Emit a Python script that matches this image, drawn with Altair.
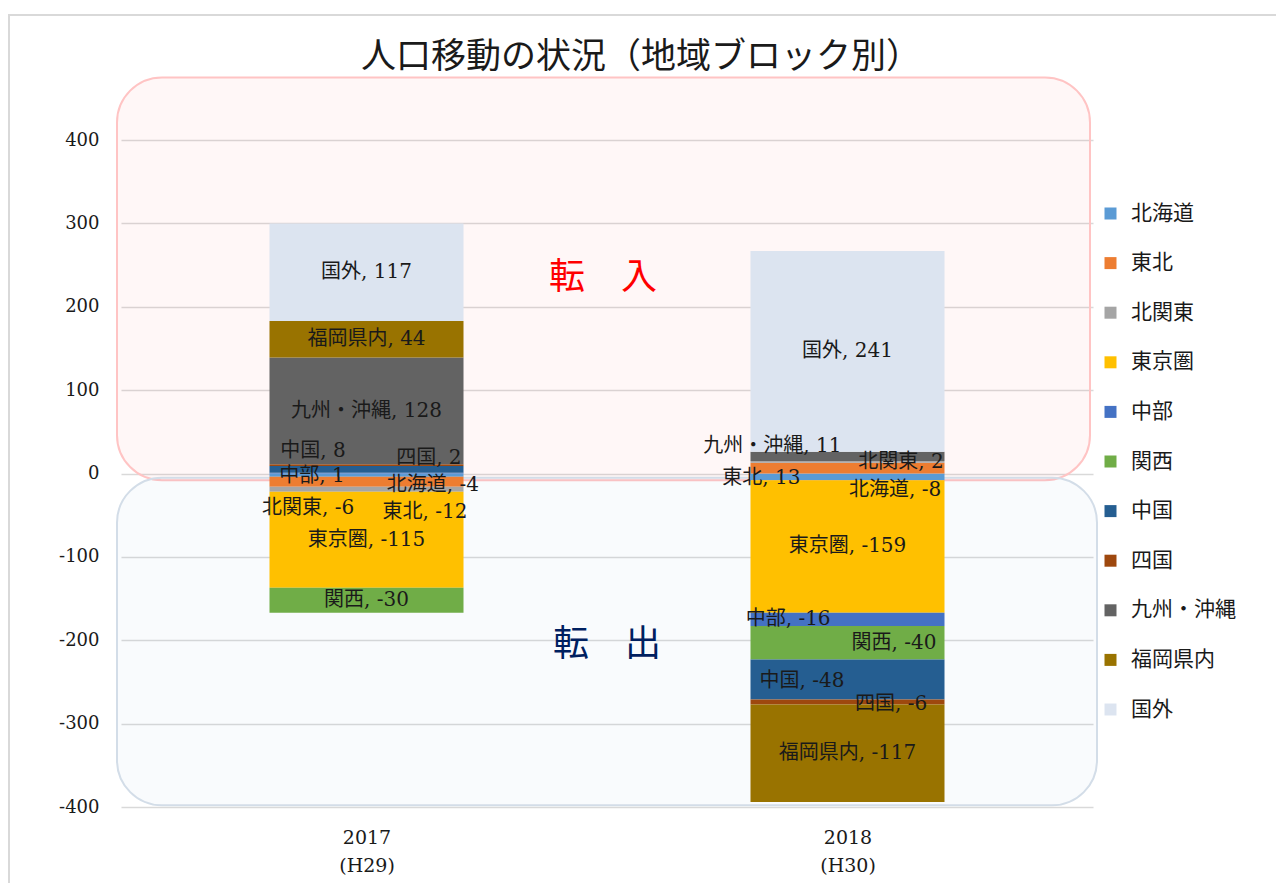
import altair as alt
import pandas as pd

# ---------------- data ----------------
REGIONS = ["北海道", "東北", "北関東", "東京圏", "中部", "関西", "中国", "四国",
           "九州・沖縄", "福岡県内", "国外"]
COLORS = ["#5B9BD5", "#ED7D31", "#A5A5A5", "#FFC000", "#4472C4", "#70AD47",
          "#255E91", "#9E480E", "#636363", "#997300", "#DCE4F0"]
YEARS = ["2017", "2018"]
ERAS = ["(H29)", "(H30)"]
V2017 = [-4, -12, -6, -115, 1, -30, 8, 2, 128, 44, 117]
V2018 = [-8, 13, 2, -159, -16, -40, -48, -6, 11, -117, 241]

TITLE = ["人口移動の状況（地域ブロック別）"]
IN_TEXT = ["転　入"]
OUT_TEXT = ["転　出"]

# ---------------- layout ----------------
W, H = 972, 667
Y_MIN, Y_MAX = -400, 400
# label nudges (pixels) so that labels of thin segments do not collide
NUDGE = {
    ("2017", "中国"): (-54, -18), ("2017", "四国"): (63, -7),
    ("2017", "中部"): (-55, 3), ("2017", "北海道"): (67, 10),
    ("2017", "北関東"): (-59, 19), ("2017", "東北"): (59, 30),
    ("2018", "九州・沖縄"): (-76, -10), ("2018", "北関東"): (54, 0),
    ("2018", "東北"): (-87, 10), ("2018", "北海道"): (48, 13),
    ("2018", "中部"): (-60, 0), ("2018", "関西"): (47, 0),
    ("2018", "中国"): (-46, 2), ("2018", "四国"): (44, 2),
}

rows = []
for yi, (yr, vals) in enumerate(zip(YEARS, [V2017, V2018])):
    for ri, (reg, v) in enumerate(zip(REGIONS, vals)):
        dx, dy = NUDGE.get((yr, reg), (0, 0))
        rows.append(dict(year=yr, xpos=yi + 0.5, region=reg, idx=ri, value=v,
                         ndx=dx * len(YEARS) / W,
                         ndy=-dy * (Y_MAX - Y_MIN) / H))
df = pd.DataFrame(rows)

LATIN = "DejaVu Serif, Noto Sans CJK JP"
CJK = "Noto Sans CJK JP"
TXT = "#1a1a1a"

xscale = alt.Scale(domain=[0, len(YEARS)], nice=False, zero=False)
yscale = alt.Scale(domain=[Y_MIN, Y_MAX], nice=False)

label_expr = (f"datum.value < 1 ? ['{YEARS[0]}', '{ERAS[0]}'] : "
              f"['{YEARS[1]}', '{ERAS[1]}']")

base = alt.Chart(df).transform_stack(
    stack="value", groupby=["year"], as_=["y0", "y1"],
    sort=[alt.SortField("idx", order="ascending")], offset="zero")

bars = base.mark_bar(size=194).encode(
    x=alt.X("xpos:Q", scale=xscale, title=None,
            axis=alt.Axis(values=[i + 0.5 for i in range(len(YEARS))],
                          labelExpr=label_expr, grid=False, ticks=False,
                          domain=False, labelFont=LATIN, labelFontSize=19,
                          labelPadding=21, labelLineHeight=28,
                          labelColor=TXT)),
    y=alt.Y("y0:Q", scale=yscale, title=None,
            axis=alt.Axis(values=list(range(Y_MIN, Y_MAX + 1, 100)),
                          labelExpr="'' + datum.value",
                          grid=True, gridColor="#d9d9d9", gridWidth=1.3,
                          ticks=False, domain=False, labelPadding=22,
                          labelFont="DejaVu Serif", labelFontSize=18,
                          labelColor=TXT)),
    y2="y1:Q",
    color=alt.Color("region:N", scale=alt.Scale(domain=REGIONS, range=COLORS),
                    legend=alt.Legend(orient="none", legendX=979, legendY=63,
                                      title=None, symbolType="square",
                                      symbolSize=144, symbolStrokeWidth=0,
                                      symbolOpacity=1, labelFontSize=21,
                                      labelFont=CJK, rowPadding=27.6,
                                      labelOffset=10, padding=0,
                                      labelColor=TXT)),
)

labels = base.transform_calculate(
    mid="(datum.y0 + datum.y1) / 2 + datum.ndy",
    lx="datum.xpos + datum.ndx",
    lab="datum.region + ', ' + datum.value",
).mark_text(fontSize=20, font=LATIN, color=TXT, baseline="middle",
            align="center").encode(
    x=alt.X("lx:Q", scale=xscale, title=None),
    y=alt.Y("mid:Q", scale=yscale, title=None),
    text="lab:N",
)

one = pd.DataFrame({"d": [0]})

pink = alt.Chart(one).mark_rect(
    cornerRadius=45, fill="#ff0000", fillOpacity=0.03,
    stroke="#ffc4c4", strokeWidth=2).encode(
    x=alt.value(-4), x2=alt.value(969),
    y=alt.Y(datum=475, scale=yscale), y2=alt.Y2(datum=-8))

blue = alt.Chart(one).mark_rect(
    cornerRadius=45, fill="#4472c4", fillOpacity=0.03,
    stroke="#d3dde8", strokeWidth=2).encode(
    x=alt.value(-4), x2=alt.value(976),
    y=alt.Y(datum=-5, scale=yscale), y2=alt.Y2(datum=-398))

border = alt.Chart(one).mark_rect(
    fill=None, stroke="#d9d9d9", strokeWidth=2).encode(
    x=alt.value(-112), x2=alt.value(1300),
    y=alt.value(-125), y2=alt.value(900))

title = alt.Chart(pd.DataFrame({"t": TITLE})).mark_text(
    font=CJK, fontSize=35, color=TXT, baseline="middle", align="center").encode(
    x=alt.value(520), y=alt.value(-83), text="t:N")

tin = alt.Chart(pd.DataFrame({"t": IN_TEXT})).mark_text(
    font=CJK, fontSize=36, color="#ff0000", baseline="middle",
    align="center").encode(
    x=alt.value(482), y=alt.Y(datum=234, scale=yscale), text="t:N")

tout = alt.Chart(pd.DataFrame({"t": OUT_TEXT})).mark_text(
    font=CJK, fontSize=36, color="#002060", baseline="middle",
    align="center").encode(
    x=alt.value(486), y=alt.Y(datum=-206, scale=yscale), text="t:N")

chart = alt.layer(border, pink, blue, bars, labels, tin, tout, title).properties(
    width=W, height=H, autosize="none",
    padding={"left": 113, "top": 132, "right": 183, "bottom": 76},
    background="white",
).configure_view(stroke=None)

chart.save("out.html", embed_options={"renderer": "svg", "actions": False})
